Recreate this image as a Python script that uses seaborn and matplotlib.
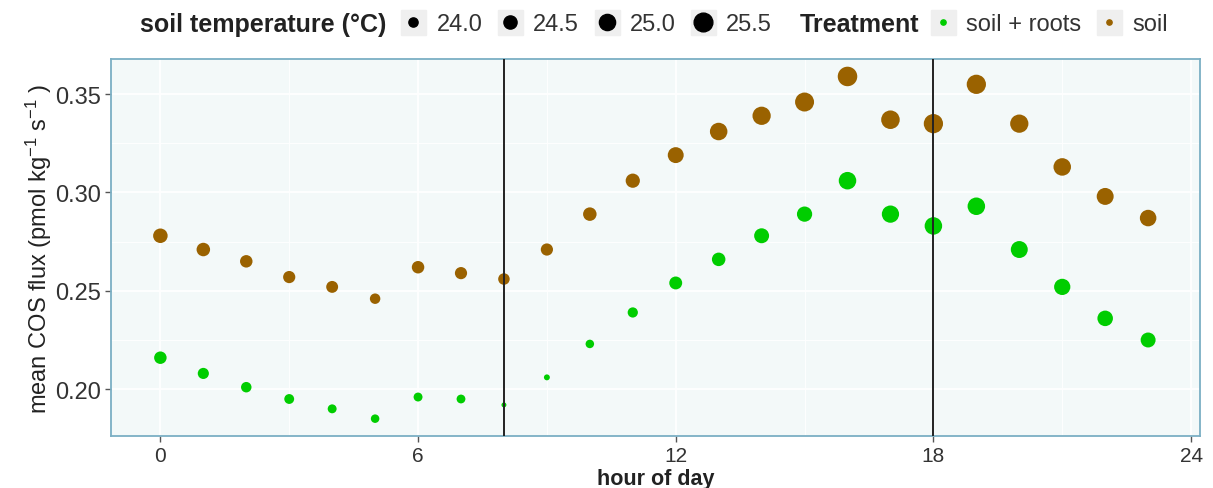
import pandas as pd
import matplotlib
matplotlib.use("Agg")
import matplotlib.pyplot as plt
from matplotlib.lines import Line2D
from matplotlib.legend_handler import HandlerTuple
from matplotlib.ticker import MultipleLocator, FormatStrFormatter
import seaborn as sns

# Data
hours = list(range(24))
flux_soil = [0.278, 0.271, 0.265, 0.257, 0.252, 0.246, 0.262, 0.259, 0.256, 0.271,
             0.289, 0.306, 0.319, 0.331, 0.339, 0.346, 0.359, 0.337, 0.335, 0.355,
             0.335, 0.313, 0.298, 0.287]
flux_roots = [0.216, 0.208, 0.201, 0.195, 0.190, 0.185, 0.196, 0.195, 0.192, 0.206,
              0.223, 0.239, 0.254, 0.266, 0.278, 0.289, 0.306, 0.289, 0.283, 0.293,
              0.271, 0.252, 0.236, 0.225]
temp_soil = [24.71, 24.55, 24.40, 24.36, 24.32, 24.14, 24.40, 24.36, 24.27, 24.36,
             24.55, 24.66, 24.95, 25.25, 25.40, 25.55, 25.67, 25.46, 25.61, 25.61,
             25.40, 25.25, 25.14, 25.06]
temp_roots = [24.40, 24.22, 24.14, 24.07, 23.97, 23.93, 23.97, 23.96, 23.66, 23.72,
              23.93, 24.11, 24.46, 24.55, 24.78, 24.83, 25.25, 25.20, 25.25, 25.25,
              25.14, 25.01, 24.88, 24.78]
treatments = ["soil + roots", "soil"]
colors = {"soil + roots": "#00CD00", "soil": "#9A6200"}
legend_temps = [24.0, 24.5, 25.0, 25.5]
light_hours = [8, 18]

df = pd.concat([
    pd.DataFrame({"hour": hours, "flux": flux_roots, "temp": temp_roots, "Treatment": "soil + roots"}),
    pd.DataFrame({"hour": hours, "flux": flux_soil, "temp": temp_soil, "Treatment": "soil"}),
])

sns.set_theme(style="whitegrid")
plt.rcParams["font.family"] = ["Liberation Sans", "DejaVu Sans"]
plt.rcParams["mathtext.default"] = "regular"

# marker area (pt^2) grows linearly with soil temperature
def area(t):
    return 44 + 92 * (t - 24)

tmin, tmax = 23.6, 25.7

fig = plt.figure(figsize=(12.13, 4.89), dpi=100)
ax = fig.add_axes([0.0915, 0.106, 0.8975, 0.771])
ax.set_facecolor("#F3F9F9")

sns.scatterplot(data=df, x="hour", y="flux", hue="Treatment", size="temp",
                palette=colors, hue_order=treatments,
                sizes=(area(tmin), area(tmax)), size_norm=(tmin, tmax),
                linewidth=0, alpha=1, legend=False, ax=ax, zorder=3)

for h in light_hours:
    ax.axvline(h, color="#222222", lw=1.4, zorder=4)

ax.set_xlim(-1.15, 24.2)
ax.set_ylim(0.1761, 0.3678)
ax.xaxis.set_major_locator(MultipleLocator(6))
ax.xaxis.set_minor_locator(MultipleLocator(3))
ax.yaxis.set_major_locator(MultipleLocator(0.05))
ax.yaxis.set_minor_locator(MultipleLocator(0.025))
ax.yaxis.set_major_formatter(FormatStrFormatter("%.2f"))
ax.grid(which="major", color="white", lw=1.3)
ax.grid(which="minor", color="white", lw=0.6)
ax.set_axisbelow(True)
for s in ax.spines.values():
    s.set_color("#7BAFC4")
    s.set_linewidth(1.3)

ax.tick_params(axis="both", which="major", length=4, width=1, color="#555555",
               colors="#333333", direction="out", pad=3)
ax.tick_params(axis="x", labelsize=15)
ax.tick_params(axis="y", labelsize=17)
ax.tick_params(which="minor", length=0)
ax.xaxis.set_ticks_position("bottom")
ax.yaxis.set_ticks_position("left")

ax.set_xlabel("hour of day", fontsize=15.5, fontweight="bold", color="#222222", labelpad=2)
ax.set_ylabel(r"mean COS flux (pmol kg$^{-1}$ s$^{-1}$ )", fontsize=17, color="#222222", labelpad=1)

# Legend row on top, ggplot style
key_bg = dict(marker="s", color="#EFEFEF", markersize=18, linestyle="none")
size_handles = [(Line2D([], [], **key_bg),
                 Line2D([], [], marker="o", color="black", linestyle="none",
                        markersize=area(t) ** 0.5))
                for t in legend_temps]
hue_handles = [(Line2D([], [], **key_bg),
                Line2D([], [], marker="o", color=colors[t], linestyle="none", markersize=3.8))
               for t in treatments]

common = dict(frameon=False, loc="center left", borderpad=0, borderaxespad=0,
              handlelength=1.05, handletextpad=0.45, columnspacing=0.65, fontsize=17,
              handler_map={tuple: HandlerTuple(ndivide=1)})
fig.text(140 / 1213, 0.949, "soil temperature (°C)", fontsize=18, fontweight="bold",
         color="#222222", va="center", ha="left")
leg1 = fig.legend(size_handles, [f"{t:.1f}" for t in legend_temps], ncol=4,
                  bbox_to_anchor=(401 / 1213, 0.949), **common)
fig.text(800 / 1213, 0.949, "Treatment", fontsize=18, fontweight="bold",
         color="#222222", va="center", ha="left")
leg2 = fig.legend(hue_handles, treatments, ncol=2,
                  bbox_to_anchor=(931 / 1213, 0.949), **common)
for leg in (leg1, leg2):
    for t in leg.get_texts():
        t.set_color("#333333")

fig.savefig("out.png", dpi=100)
